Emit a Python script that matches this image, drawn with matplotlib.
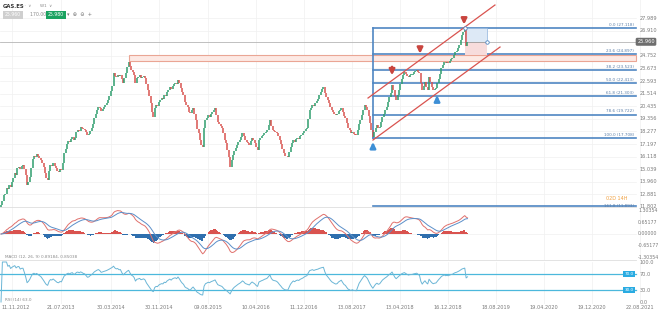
import numpy as np
import pandas as pd
import matplotlib
matplotlib.use("Agg")
import matplotlib.pyplot as plt
from matplotlib.patches import Rectangle

### weekly candles GAS.ES, first one on 16.09.2012
start = pd.Timestamp("2012-09-16")
first_open = 11.80
closes = [
    11.97, 12.35, 12.80, 12.95, 13.45, 13.30, 13.70, 13.55, 13.94, 14.30,
    14.70, 14.55, 15.10, 15.25, 15.05, 15.35, 15.40, 15.05, 14.55, 13.69,
    13.95, 14.37, 15.10, 15.90, 16.20, 16.05, 16.34, 16.15, 16.00, 15.85,
    15.55, 15.20, 14.75, 14.30, 14.11, 14.90, 15.40, 15.30, 15.57, 15.35,
    15.10, 14.85, 14.80, 15.05, 14.97, 15.60, 16.40, 16.75, 17.20, 17.45,
    17.35, 17.65, 17.80, 17.55, 17.71, 18.25, 18.40, 18.30, 18.65, 18.57,
    18.45, 18.40, 18.20, 17.97, 18.05, 18.35, 18.57, 18.90, 19.40, 19.75,
    20.10, 20.37, 20.25, 20.05, 20.20, 20.35, 20.54, 20.70, 20.97, 21.30,
    21.70, 22.20, 23.28, 23.05, 22.94, 23.15, 23.00, 23.11, 22.75, 22.43,
    22.85, 23.28, 23.80, 24.23, 23.85, 23.50, 23.37, 23.10, 22.40, 22.86,
    22.95, 23.10, 22.85, 22.94, 23.05, 22.86, 22.30, 21.85, 21.30, 20.70,
    19.90, 19.51, 20.30, 20.55, 20.45, 20.80, 20.97, 21.10, 21.05, 21.40,
    21.30, 21.65, 21.85, 22.08, 21.90, 22.20, 22.35, 22.43, 22.30, 22.68,
    22.40, 22.00, 21.66, 21.40, 20.80, 20.50, 20.37, 19.95, 19.86, 20.10,
    20.29, 19.80, 19.26, 18.50, 18.14, 17.54, 17.10, 16.94, 18.60, 19.26,
    19.45, 19.68, 19.55, 19.80, 19.94, 20.10, 20.29, 19.70, 19.09, 18.90,
    18.75, 18.57, 18.10, 17.54, 17.30, 16.69, 16.10, 15.23, 15.80, 16.26,
    16.60, 16.85, 17.11, 17.35, 17.54, 17.80, 18.14, 17.90, 17.50, 17.37,
    17.25, 17.11, 17.45, 17.71, 17.50, 17.29, 16.90, 16.69, 17.54, 17.70,
    17.85, 17.97, 18.15, 18.25, 18.40, 18.80, 19.26, 18.70, 18.40, 18.30,
    18.25, 18.14, 17.90, 17.54, 17.20, 16.75, 16.43, 16.20, 16.15, 16.09,
    16.50, 16.94, 17.25, 17.54, 17.40, 17.60, 17.71, 17.65, 17.85, 17.97,
    18.10, 18.30, 18.45, 18.57, 19.30, 20.11, 20.30, 20.54, 20.45, 20.70,
    20.85, 21.05, 21.40, 21.65, 21.90, 22.08, 21.60, 21.20, 20.97, 20.70,
    20.40, 20.11, 19.95, 19.80, 19.68, 19.75, 20.00, 20.15, 20.29, 19.95,
    19.60, 19.43, 19.00, 18.57, 18.40, 18.14, 18.25, 18.05, 18.00, 17.97,
    18.40, 18.90, 19.26, 19.70, 20.15, 20.54, 20.35, 20.11, 19.60, 19.00,
    18.40, 17.80, 18.20, 18.60, 18.83, 18.55, 18.66, 19.05, 19.51, 19.80,
    20.10, 20.37, 20.80, 21.23, 21.60, 22.26, 21.80, 21.30, 20.97, 21.40,
    21.83, 22.30, 22.80, 23.11, 23.37, 23.20, 23.05, 22.94, 23.10, 23.11,
    23.20, 23.35, 23.45, 23.54, 23.40, 23.28, 22.40, 21.83, 22.20, 22.51,
    22.10, 21.83, 22.94, 22.50, 22.10, 21.83, 21.95, 22.00, 22.40, 22.80,
    23.20, 23.71, 23.95, 24.23, 24.10, 24.20, 24.14, 24.35, 24.50, 24.57,
    24.85, 25.08, 25.20, 25.43, 25.70, 26.11, 26.55, 26.80, 27.05, 25.60,
    25.96,
]

date_labels = ['11.11.2012', '21.07.2013', '30.03.2014', '30.11.2014', '09.08.2015',
               '10.04.2016', '11.12.2016', '13.08.2017', '13.04.2018', '16.12.2018',
               '18.08.2019', '19.04.2020', '19.12.2020', '22.08.2021']
price_ticks = [27.989, 26.910, 24.752, 23.673, 22.593, 21.514, 20.435, 19.356,
               18.277, 17.197, 16.118, 15.039, 13.960, 12.881, 11.802]
macd_ticks = [1.30354, 0.65177, 0.0, -0.65177, -1.30354]
rsi_ticks = [100.0, 70.0, 30.0, 0.0]

last_price = 25.960
fib_high, fib_low = 27.118, 17.708
fib_ratios = [0.0, 0.236, 0.382, 0.5, 0.618, 0.786, 1.0, 1.618]
fib_low_idx, fib_high_idx = 271, 338
zone_idx, zone_low, zone_high = 93, 24.35, 24.85
box_end_idx = 354
chan_upper = [(267.5, 21.14), (360.0, 29.11)]
chan_lower = [(271.1, 17.54), (363.7, 25.51)]
arrows_down = [(285.0, 24.05, 22.85), (305.4, 25.75, 24.70), (337.5, 28.20, 27.20)]
arrows_up = [(271.1, 16.65, 17.60), (317.8, 20.70, 21.60)]

W, H = 660, 311
GREEN, RED, BLUE = '#2f9e6e', '#d9534f', '#4f86c2'
TXT = '#7a7a7a'


def px2idx(p):
    # horizontal pixel -> candle index (1.372 px per week)
    return (p - 1.02) / 1.372


closes = np.array(closes)
n = len(closes)
idx = np.arange(n)
opens = np.concatenate([[first_open], closes[:-1]])
date_idx = [(pd.to_datetime(d, format='%d.%m.%Y') - start).days / 7 for d in date_labels]

s = pd.Series(closes)
macd = s.ewm(span=12, adjust=False).mean() - s.ewm(span=26, adjust=False).mean()
signal = macd.ewm(span=9, adjust=False).mean()
hist = macd - signal
delta = s.diff().fillna(0)
gain = delta.clip(lower=0).ewm(alpha=1 / 14, adjust=False).mean()
loss = (-delta.clip(upper=0)).ewm(alpha=1 / 14, adjust=False).mean()
rsi = 100 - 100 / (1 + gain / loss.replace(0, 1e-9))

xmin, xmax, xr = px2idx(0), px2idx(W), px2idx(636)

fig = plt.figure(figsize=(W / 100, H / 100), dpi=100)
ax = fig.add_axes([0, 1 - 207 / H, 1, 207 / H])
mx = fig.add_axes([0, 1 - 260 / H, 1, 53 / H])
rx = fig.add_axes([0, 1 - 304 / H, 1, 44 / H])
for a in (ax, mx, rx):
    a.set_xlim(xmin, xmax)
    a.axis('off')
    for d in date_idx:
        a.plot([d, d], [-100, 100], color='#f0f0f0', lw=0.5, zorder=0)
ax.set_ylim(11.80, 29.54)
mx.set_ylim(-1.442, 1.497)
rx.set_ylim(-5, 105)

# ---- price panel
for t in price_ticks:
    ax.plot([xmin, xr], [t, t], color='#f0f0f0', lw=0.5, zorder=0)
    ax.text(640 / W, t, f'{t:.3f}', transform=ax.get_yaxis_transform(),
            fontsize=3.6, color=TXT, va='center', ha='left')

ax.add_patch(Rectangle((zone_idx, zone_low), xr - zone_idx, zone_high - zone_low,
                       fc='#fde9e4', ec='#eaa594', lw=0.8, zorder=1))
ax.plot([xmin, xr], [last_price, last_price], color='#b5b5b5', lw=0.6, zorder=1)

fib_levels = [fib_high - r * (fib_high - fib_low) for r in fib_ratios]
ax.plot([fib_low_idx, fib_low_idx], [fib_low, fib_high], color=BLUE, lw=1.2, zorder=2)
for r, lv in zip(fib_ratios, fib_levels):
    ax.plot([fib_low_idx, xr], [lv, lv], color=BLUE, lw=1.2, zorder=2)
    above = lv > ax.get_ylim()[0] + 0.2
    ax.text(634 / W, lv + 0.12 if above else lv, f'{r * 100:.1f} ({lv:.3f})',
            transform=ax.get_yaxis_transform(), fontsize=3, color='#5a7ea8',
            ha='right', va='bottom' if above else 'center', clip_on=False)

ax.add_patch(Rectangle((fib_high_idx, last_price), box_end_idx - fib_high_idx, fib_high - last_price,
                       fc='#dde9f6', ec='#8fb3dc', lw=0.5, zorder=3))
ax.add_patch(Rectangle((fib_high_idx, zone_high), box_end_idx - fib_high_idx, last_price - zone_high,
                       fc='#f7dcdc', ec='none', zorder=3))
ax.plot([fib_high_idx, box_end_idx], [last_price, last_price], color='#9a9a9a', lw=0.6, zorder=4)

body_lo = np.minimum(opens, closes)
body_hi = np.maximum(np.maximum(opens, closes), body_lo + 0.06)
cols = [GREEN if c >= o else RED for o, c in zip(opens, closes)]
ax.vlines(idx, body_lo, body_hi, colors=cols, lw=1.1, zorder=5)

ax.plot(*zip(*chan_upper), color=RED, lw=0.9, zorder=6)
ax.plot(*zip(*chan_lower), color=RED, lw=0.9, zorder=6)
ax.plot([fib_high_idx, box_end_idx], [fib_high, last_price], 'o', ms=2.5, mfc='white',
        mec=BLUE, mew=0.6, zorder=7)

for x, y0, y1 in arrows_down:
    ax.annotate('', xy=(x, y1), xytext=(x, y0), zorder=8,
                arrowprops=dict(arrowstyle='-|>', color='#c9453f', lw=1.8, mutation_scale=8))
for x, y0, y1 in arrows_up:
    ax.annotate('', xy=(x, y1), xytext=(x, y0), zorder=8,
                arrowprops=dict(arrowstyle='-|>', color='#3d8fd6', lw=1.8, mutation_scale=8))

ax.text(646 / W, last_price, f'{last_price:.3f}', transform=ax.get_yaxis_transform(),
        fontsize=3.6, color='white', ha='center', va='center',
        bbox=dict(boxstyle='round,pad=0.3', fc='#6e6e6e', ec='none'))
ax.text(628 / W, 12.50, '02D 14H', transform=ax.get_yaxis_transform(),
        fontsize=3.5, color='#f0a040', ha='right', va='center')

# ---- MACD panel
mx.plot([xmin, xr], [0, 0], color='#f0f0f0', lw=0.5, zorder=0)
mx.bar(idx, hist, width=1.0, color=[RED if h >= 0 else '#2f6fae' for h in hist], zorder=2)
mx.plot(idx, macd, color='#e0706c', lw=0.7, zorder=3)
mx.plot(idx, signal, color='#5b8fc9', lw=0.7, zorder=3)
for t in macd_ticks:
    mx.text(638 / W, t, f'{t:.5f}', transform=mx.get_yaxis_transform(),
            fontsize=3.4, color=TXT, va='center', ha='left')
mx.text(5 / W, -1.25, 'MACD (12, 26, 9) %.5f, %.5f' % (macd.iloc[-1], signal.iloc[-1]),
        transform=mx.get_yaxis_transform(), fontsize=3, color='#8a8a8a', va='center')

# ---- RSI panel
rx.plot(idx, rsi, color='#6bb6d6', lw=0.7, zorder=3)
for lv in (70, 30):
    rx.plot([xmin, xr], [lv, lv], color='#4cb8dc', lw=0.9, zorder=2)
    rx.text(629 / W, lv, f'{lv:.1f}', transform=rx.get_yaxis_transform(), fontsize=3,
            color='white', ha='center', va='center',
            bbox=dict(boxstyle='square,pad=0.25', fc='#29abe2', ec='none'), zorder=4)
for t in rsi_ticks:
    rx.text(640 / W, t, f'{t:.1f}', transform=rx.get_yaxis_transform(),
            fontsize=3.6, color=TXT, va='center', ha='left')
rx.text(5 / W, 5, 'RSI (14) %.1f' % rsi.iloc[-1], transform=rx.get_yaxis_transform(),
        fontsize=3, color='#8a8a8a', va='center')
for k, (d, lab) in enumerate(zip(date_idx, date_labels)):
    if k == 0:
        rx.text(1 / W, -0.09, lab, transform=rx.transAxes, fontsize=3.6,
                color=TXT, ha='left', va='center', clip_on=False)
    else:
        rx.text(d, -0.09, lab, transform=rx.get_xaxis_transform(), fontsize=3.6,
                color=TXT, ha='center', va='center', clip_on=False)

# panel separators
for y in (207, 260):
    fig.add_artist(plt.Line2D([0, 636 / W], [1 - y / H, 1 - y / H], color='#dedede', lw=0.6))

# header
fig.text(3 / W, 1 - 6 / H, 'GAS.ES', fontsize=3.8, weight='bold', color='#333333', va='center')
fig.text(22 / W, 1 - 6 / H, '···  ∨       W1  ∨', fontsize=3, color='#888888', va='center')
fig.text(5 / W, 1 - 15 / H, '25.960', fontsize=3.3, color='white', va='center',
         bbox=dict(boxstyle='square,pad=0.35', fc='#cfcfcf', ec='none'))
fig.text(27 / W, 1 - 15 / H, '  170.00', fontsize=3.3, color='#888888', va='center')
fig.text(48 / W, 1 - 15 / H, '25.980', fontsize=3.3, color='white', va='center',
         bbox=dict(boxstyle='square,pad=0.35', fc='#1aa260', ec='none'))
fig.text(67 / W, 1 - 15 / H, '▾  ⊕  ⊖  +', fontsize=3.6, color='#777777', va='center')

plt.savefig('out.png', dpi=100)
